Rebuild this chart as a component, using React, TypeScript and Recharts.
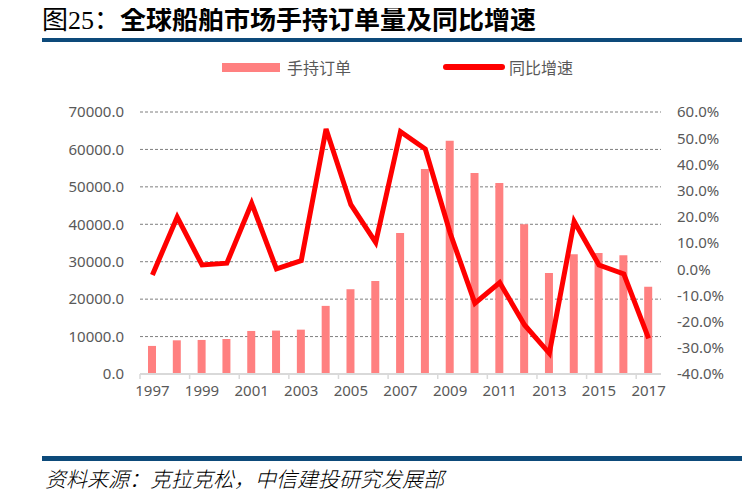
import {
  ComposedChart,
  Bar,
  Line,
  XAxis,
  YAxis,
  CartesianGrid,
} from "recharts";

const YEARS = [
  "1997", "1998", "1999", "2000", "2001", "2002", "2003", "2004", "2005", "2006", "2007",
  "2008", "2009", "2010", "2011", "2012", "2013", "2014", "2015", "2016", "2017",
];

// 手持订单
const ORDERBOOK = [
  7500, 9000, 9100, 9350, 11500, 11600, 11850, 18200, 22650, 24850, 37700,
  54800, 62300, 53700, 51000, 40000, 27000, 32000, 32350, 31700, 23300,
];

// 同比增速 (%)
const GROWTH = [
  -2.2, 19.9, 1.6, 2.3, 25.2, 0.1, 3.3, 53.5, 24.6, 10.2, 52.5,
  45.9, 13.8, -13.0, -5.1, -21.3, -32.1, 18.2, 1.6, -1.8, -26.4,
];

const LEFT_TICKS = [0, 10000, 20000, 30000, 40000, 50000, 60000, 70000];
const RIGHT_TICKS = [-40, -30, -20, -10, 0, 10, 20, 30, 40, 50, 60];

const data = YEARS.map((year, i) => ({
  year,
  orders: ORDERBOOK[i],
  growth: GROWTH[i],
}));

const BAR_COLOR = "#ff8080";
const LINE_COLOR = "#ff0000";
const TEXT_COLOR = "#595959";
const RULE_COLOR = "#0d4a7a";
const FONT = "'Noto Sans', 'Noto Sans CJK SC', sans-serif";
const HALF_BAND = 12.4;

function XTick(props: any) {
  const { x, y, payload } = props;
  return (
    <g>
      <line x1={x - HALF_BAND} y1={y - 8} x2={x - HALF_BAND} y2={y - 3} stroke="#d9d9d9" strokeWidth={1.5} />
      <text x={x} y={y + 14} textAnchor="middle" fill={TEXT_COLOR} fontSize={15} fontFamily={FONT}>
        {payload.value}
      </text>
    </g>
  );
}

export default function App() {
  return (
    <div style={{ position: "relative", width: 750, height: 497, margin: -8, background: "#fff", overflow: "hidden" }}>
      {/* title */}
      <div
        style={{
          position: "absolute",
          left: 42,
          top: 0,
          fontSize: 26,
          lineHeight: "35px",
          fontFamily: "'Noto Sans CJK SC', sans-serif",
          color: "#000",
          whiteSpace: "nowrap",
        }}
      >
        <span style={{ fontWeight: 400, fontFamily: "'Liberation Serif', 'Noto Sans CJK SC', serif" }}>图25：</span>
        <span style={{ fontWeight: 700 }}>全球船舶市场手持订单量及同比增速</span>
      </div>
      <div style={{ position: "absolute", left: 42, top: 38, width: 708, height: 4, background: RULE_COLOR }} />

      {/* legend */}
      <div style={{ position: "absolute", left: 222, top: 63, width: 58, height: 9, background: BAR_COLOR }} />
      <div
        style={{ position: "absolute", left: 287, top: 55, fontSize: 16, lineHeight: "24px", color: TEXT_COLOR, fontFamily: "'Noto Sans CJK SC', sans-serif" }}
      >
        手持订单
      </div>
      <div style={{ position: "absolute", left: 443, top: 64, width: 62, height: 6, borderRadius: 3, background: LINE_COLOR }} />
      <div
        style={{ position: "absolute", left: 509, top: 55, fontSize: 16, lineHeight: "24px", color: TEXT_COLOR, fontFamily: "'Noto Sans CJK SC', sans-serif" }}
      >
        同比增速
      </div>

      <div style={{ position: "absolute", left: 0, top: 0 }}>
        <ComposedChart
          width={750}
          height={420}
          data={data}
          margin={{ top: 112, right: 9, left: 60, bottom: 16 }}
          barCategoryGap={0}
        >
          <CartesianGrid vertical={false} stroke="#7f7f7f" strokeDasharray="3 2" yAxisId="left" />
          <XAxis
            dataKey="year"
            interval={1}
            height={30}
            tickLine={false}
            axisLine={{ stroke: "#d9d9d9", strokeWidth: 2 }}
            tick={<XTick />}
          />
          <YAxis
            yAxisId="left"
            orientation="left"
            width={80}
            domain={[0, 70000]}
            ticks={LEFT_TICKS}
            tickFormatter={(v: number) => v.toFixed(1)}
            axisLine={false}
            tickLine={false}
            tickMargin={10}
            tick={{ fill: TEXT_COLOR, fontSize: 15, fontFamily: FONT }}
          />
          <YAxis
            yAxisId="right"
            orientation="right"
            width={80}
            domain={[-40, 60]}
            ticks={RIGHT_TICKS}
            tickFormatter={(v: number) => v.toFixed(1) + "%"}
            axisLine={false}
            tickLine={false}
            tickMargin={10}
            tick={{ fill: TEXT_COLOR, fontSize: 15, fontFamily: FONT }}
          />
          <Bar yAxisId="left" dataKey="orders" fill={BAR_COLOR} barSize={8} isAnimationActive={false} />
          <Line
            yAxisId="right"
            dataKey="growth"
            type="linear"
            stroke={LINE_COLOR}
            strokeWidth={5}
            strokeLinejoin="miter"
            dot={false}
            activeDot={false}
            isAnimationActive={false}
          />
        </ComposedChart>
      </div>

      {/* source */}
      <div style={{ position: "absolute", left: 42, top: 456, width: 708, height: 5, background: RULE_COLOR }} />
      <div
        style={{
          position: "absolute",
          left: 45,
          top: 466,
          fontSize: 21,
          lineHeight: "24px",
          fontStyle: "italic",
          fontWeight: 300,
          color: "#000",
          fontFamily: "'Noto Sans CJK SC', sans-serif",
          whiteSpace: "nowrap",
        }}
      >
        资料来源：克拉克松，中信建投研究发展部
      </div>
    </div>
  );
}
